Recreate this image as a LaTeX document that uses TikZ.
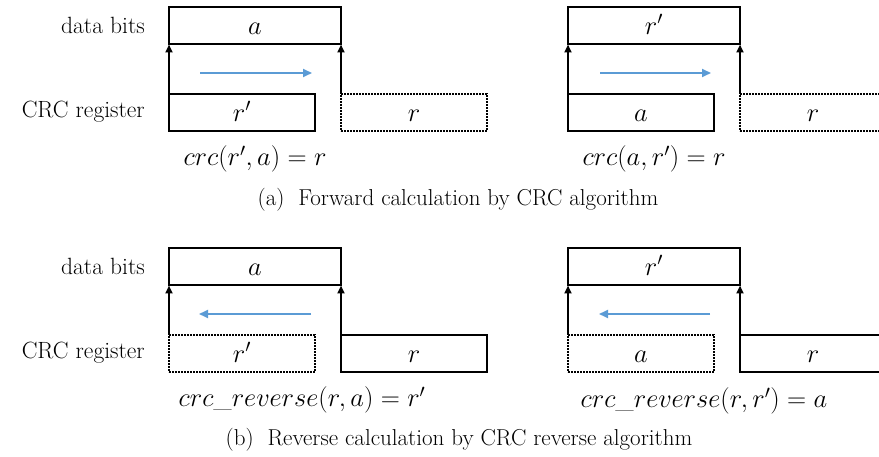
\RequirePackage{fix-cm}
\documentclass[tikz,border=0pt]{standalone}
\usetikzlibrary{arrows.meta}
\definecolor{arrowblue}{RGB}{91,155,213}
\newcommand\mysz{\fontsize{26.5}{30}\selectfont}
\newcommand\lblsz{\fontsize{23.5}{27}\selectfont}
\newcommand\capsz{\fontsize{23}{27}\selectfont}
\begin{document}
\begin{tikzpicture}[x=1pt,y=-1pt,
  box/.style={draw=black, line width=2pt, rectangle, inner sep=0pt, outer sep=0pt,
    minimum height=37pt, anchor=north west, font=\mysz, text height=18pt, text depth=0pt},
  databox/.style={box, minimum width=172pt},
  regbox/.style={box, minimum width=146pt},
  dotbox/.style={box, line width=1.6pt, dash pattern=on 1.6pt off 1.4pt},
  upline/.style={line width=2pt, -{Triangle[length=8pt,width=7pt]}, shorten >=0.5pt},
  flow/.style={draw=arrowblue, line width=2pt, -{Triangle[length=9pt,width=8pt]}},
  lbl/.style={font=\lblsz, anchor=east, inner sep=0pt},
  formula/.style={font=\mysz, inner sep=0pt},
  caption/.style={font=\capsz, inner sep=0pt}]
\clip (0,0) rectangle (879,457);
\fill[white] (0,0) rectangle (879,457);

% ---------- (a) ----------
\node[lbl] (la1) at (145,25) {data bits};
\node[lbl] (la2) at (145,112) {CRC register};

\node[databox] (d1) at (169,7) {$a$};
\node[regbox] (g1) at (169,94) {$r'$};
\node[regbox, dotbox] (q1) at (341,94) {$r$};
\draw[upline] (g1.north west) -- (d1.south west);
\draw[upline] (q1.north west) -- (d1.south east);
\coordinate (s1) at (200,73);
\coordinate (e1) at (312,73);
\draw[flow] (s1) -- (e1);
\node[formula] (f1) at (255,159) {$crc(r',a)=r$};

\node[databox] (d2) at (568,7) {$r'$};
\node[regbox] (g2) at (568,94) {$a$};
\node[regbox, dotbox] (q2) at (740,94) {$r$};
\draw[upline] (g2.north west) -- (d2.south west);
\draw[upline] (q2.north west) -- (d2.south east);
\coordinate (s2) at (600,73);
\coordinate (e2) at (711,73);
\draw[flow] (s2) -- (e2);
\node[formula] (f2) at (654,159) {$crc(a,r')=r$};

\node[caption] (ca) at (458,200) {(a)\ \ Forward calculation by CRC algorithm};

% ---------- (b) ----------
\node[lbl] (lb1) at (145,266) {data bits};
\node[lbl] (lb2) at (145,353) {CRC register};

\node[databox] (d3) at (169,248) {$a$};
\node[regbox, dotbox] (g3) at (169,335) {$r'$};
\node[regbox] (q3) at (341,335) {$r$};
\draw[upline] (g3.north west) -- (d3.south west);
\draw[upline] (q3.north west) -- (d3.south east);
\coordinate (s3) at (311,314);
\coordinate (e3) at (199,314);
\draw[flow] (s3) -- (e3);
\node[formula] (f3) at (302,400) {$crc\_reverse(r,a)=r'$};

\node[databox] (d4) at (568,248) {$r'$};
\node[regbox, dotbox] (g4) at (568,335) {$a$};
\node[regbox] (q4) at (740,335) {$r$};
\draw[upline] (g4.north west) -- (d4.south west);
\draw[upline] (q4.north west) -- (d4.south east);
\coordinate (s4) at (710,314);
\coordinate (e4) at (599,314);
\draw[flow] (s4) -- (e4);
\node[formula] (f4) at (704,401) {$crc\_reverse(r,r')=a$};

\node[caption] (cb) at (459,440) {(b)\ \ Reverse calculation by CRC reverse algorithm};
\end{tikzpicture}
\end{document}
